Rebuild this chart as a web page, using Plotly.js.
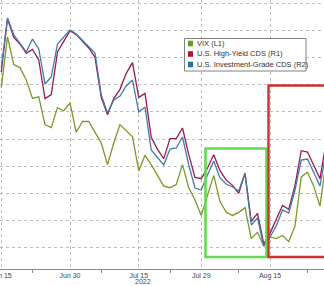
<!DOCTYPE html>
<html>
<head>
<meta charset="utf-8">
<script src="https://cdn.plot.ly/plotly-3.0.1.min.js"></script>
<style>
html,body{margin:0;padding:0;background:#fff;}
#chart{width:324px;height:286px;}
</style>
</head>
<body>
<div id="chart"></div>
<script>
// Weekday dates (Bloomberg-style business-day axis)
const dates = [
  '2022-06-15','2022-06-16','2022-06-17','2022-06-20','2022-06-21','2022-06-22','2022-06-23','2022-06-24',
  '2022-06-27','2022-06-28','2022-06-29','2022-06-30','2022-07-01','2022-07-04','2022-07-05','2022-07-06',
  '2022-07-07','2022-07-08','2022-07-11','2022-07-12','2022-07-13','2022-07-14','2022-07-15','2022-07-18',
  '2022-07-19','2022-07-20','2022-07-21','2022-07-22','2022-07-25','2022-07-26','2022-07-27','2022-07-28',
  '2022-07-29','2022-08-01','2022-08-02','2022-08-03','2022-08-04','2022-08-05','2022-08-08','2022-08-09',
  '2022-08-10','2022-08-11','2022-08-12','2022-08-15','2022-08-16','2022-08-17','2022-08-18','2022-08-19',
  '2022-08-22','2022-08-23','2022-08-24','2022-08-25','2022-08-26'
];
// VIX (L1)
const vix = [
  29.6,32.9,31.1,30.9,30.1,28.9,29.0,27.2,
  27.0,28.3,28.1,28.6,26.7,27.4,27.4,26.7,
  26.0,24.6,26.0,27.2,26.8,26.4,24.2,25.2,
  24.6,23.9,23.2,23.1,23.3,24.6,23.1,22.3,
  21.3,22.6,23.9,22.2,21.5,21.3,21.5,21.8,
  19.8,20.2,19.3,19.9,19.8,20.0,19.6,20.6,
  23.8,24.1,23.2,21.9,24.9
];
// U.S. High-Yield CDS (R1), bp
const hyCds = [
  569,609,595,590,583,586,578,549,
  552,584,592,600,597,592,587,580,
  550,537,549,556,568,576,550,553,
  520,511,504,519,519,527,507,490,
  489,497,507,495,488,484,478,493,
  457,463,440,448,458,469,466,484,
  510,509,499,489,517
];
// U.S. Investment-Grade CDS (R2), bp
const igCds = [
  91.8,96.8,95.1,94.3,93.4,94.7,93.7,90.2,
  90.9,94.2,94.9,95.6,95.2,94.6,93.9,93.3,
  89.1,87.3,88.6,89.0,90.0,90.6,87.4,87.9,
  83.6,82.9,82.1,83.7,83.8,84.9,82.1,79.8,
  79.6,81.1,82.5,80.8,80.2,79.9,79.5,81.3,
  76.1,76.8,74.0,74.9,76.0,77.6,77.3,79.6,
  82.6,82.7,81.4,80.0,83.6
];
const seriesNames = ['VIX (L1)', 'U.S. High-Yield CDS (R1)', 'U.S. Investment-Grade CDS (R2)'];
const seriesColors = ['#7a9a2a', '#9c1a4e', '#4479ad'];
const legendSwatch = ['#6a9c22', '#b8103e', '#2f6f9e'];
const tickDates = ['2022-06-15','2022-06-30','2022-07-15','2022-07-29','2022-08-15'];
const tickLabels = ['Jun 15','Jun 30','Jul 15','Jul 29','Aug 15'];
const minorTickDates = ['2022-06-22','2022-07-07','2022-07-22','2022-08-08','2022-08-23'];
const yearLabel = '2022';

const W = 324, H = 286, PH = 269;
const py = p => 1 - p / PH;   // pixel row -> paper y
const px = p => p / W;        // pixel col -> paper x

const traces = [
  {x: dates, y: vix, name: seriesNames[0], yaxis: 'y', type: 'scatter', mode: 'lines',
   line: {color: seriesColors[0], width: 1.3}},
  {x: dates, y: hyCds, name: seriesNames[1], yaxis: 'y2', type: 'scatter', mode: 'lines',
   line: {color: seriesColors[1], width: 1.3}},
  {x: dates, y: igCds, name: seriesNames[2], yaxis: 'y3', type: 'scatter', mode: 'lines',
   line: {color: seriesColors[2], width: 1.3}}
];

const rowsY = [43.5, 54, 64.5];
const shapes = [
  // highlight boxes
  {type: 'rect', xref: 'paper', yref: 'paper', x0: px(205.5), x1: px(266.5), y0: py(257), y1: py(148.5),
   line: {color: '#62dc4e', width: 2.6}, fillcolor: 'rgba(0,0,0,0)', layer: 'above'},
  {type: 'rect', xref: 'paper', yref: 'paper', x0: px(268.5), x1: px(340), y0: py(257), y1: py(85.5),
   line: {color: '#cf2f2f', width: 2.4}, fillcolor: 'rgba(0,0,0,0)', layer: 'above'},
  // legend box
  {type: 'rect', xref: 'paper', yref: 'paper', x0: px(184.5), x1: px(306), y0: py(71), y1: py(38.5),
   line: {color: '#808080', width: 1}, fillcolor: '#ffffff', layer: 'above'}
];
const annotations = [];
seriesNames.forEach((nm, i) => {
  shapes.push({type: 'rect', xref: 'paper', yref: 'paper',
    x0: px(188), x1: px(193), y0: py(rowsY[i] + 2.8), y1: py(rowsY[i] - 2.8),
    line: {width: 0}, fillcolor: legendSwatch[i], layer: 'above'});
  annotations.push({xref: 'paper', yref: 'paper', x: px(194.5), y: py(rowsY[i]),
    xanchor: 'left', yanchor: 'middle', showarrow: false, text: nm,
    font: {family: 'Liberation Sans, Arial, sans-serif', size: 7.5, color: '#333'}});
});
annotations.push({xref: 'paper', yref: 'paper', x: px(143), y: py(281.5), xanchor: 'center', yanchor: 'middle',
  showarrow: false, text: yearLabel, font: {family: 'Liberation Sans, Arial, sans-serif', size: 7, color: '#444'}});

const layout = {
  width: W, height: H,
  margin: {l: 0, r: 0, t: 0, b: H - PH, pad: 0},
  paper_bgcolor: '#fff', plot_bgcolor: '#fff',
  showlegend: false,
  xaxis: {
    type: 'date',
    range: ['2022-06-14 19:12', '2022-08-25 15:22'],
    rangebreaks: [{bounds: ['sat', 'mon']}],
    tickmode: 'array', tickvals: tickDates, ticktext: tickLabels,
    ticklabeloverflow: 'allow',
    ticks: '', showline: true, linecolor: '#8a8a8a', linewidth: 1,
    showgrid: true, gridcolor: '#bdbdbd', griddash: 'dot', gridwidth: 1,
    tickfont: {family: 'Liberation Sans, Arial, sans-serif', size: 7, color: '#444'},
    minor: {tickmode: 'array', tickvals: minorTickDates, ticks: 'outside', ticklen: 3, tickcolor: '#8a8a8a', showgrid: false},
    zeroline: false, fixedrange: true
  },
  yaxis: {
    range: [17.82, 35.29], showticklabels: false, ticks: '', showline: false, zeroline: false,
    showgrid: true, gridcolor: '#bdbdbd', griddash: 'dot', gridwidth: 1,
    tickmode: 'linear', tick0: 19.187, dtick: 1.766
  },
  yaxis2: {
    range: [421.25, 623], overlaying: 'y', side: 'right', visible: false
  },
  yaxis3: {
    range: [71.7, 98.6], overlaying: 'y', side: 'right', visible: false
  },
  shapes: shapes,
  annotations: annotations
};

Plotly.newPlot('chart', traces, layout, {staticPlot: true, displayModeBar: false});
</script>
</body>
</html>
